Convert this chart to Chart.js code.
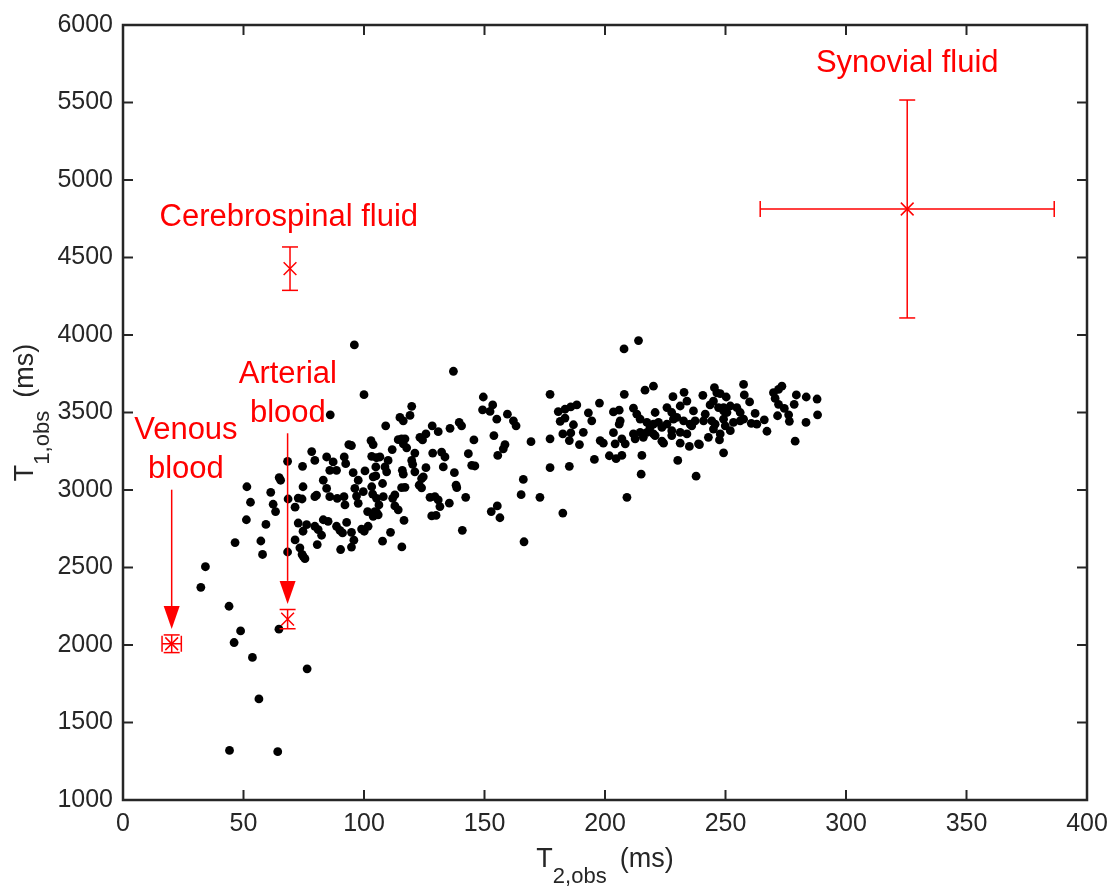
<!DOCTYPE html>
<html>
<head>
<meta charset="utf-8">
<script src="https://cdn.jsdelivr.net/npm/chart.js@4.4.0/dist/chart.umd.min.js"></script>
<style>
  body { margin: 0; background: #fff; }
  #wrap { width: 1117px; height: 886px; position: relative; }
</style>
</head>
<body>
<div id="wrap"><canvas id="relaxChart"></canvas></div>
<script>
// axis ticks
const xTicks = [0, 50, 100, 150, 200, 250, 300, 350, 400];
const yTicks = [1000, 1500, 2000, 2500, 3000, 3500, 4000, 4500, 5000, 5500, 6000];

// tissue measurements [T2,obs, T1,obs] in ms
const tissuePoints = [
  [96,3936],[100,3615],[86,3485],[68.3,3185],[78.3,3248],[79.6,3191],[84.5,3213],[87.2,3181],[88.6,3127],[85.8,3127],
  [91.8,3213],[92.4,3170],[93.7,3293],[94.8,3287],[102.9,3319],[103.8,3293],[103.2,3217],[100.4,3123],[95.5,3112],[97.6,3063],
  [103.8,3085],[105.2,3208],[104.9,3149],[74.5,3153],[64.8,3080],[65.4,3063],[51.4,3021],[52.9,2921],[61.3,2985],[62.3,2908],
  [63.3,2861],[68.5,2942],[72.7,2948],[74.3,2942],[74.7,3021],[71.4,2889],[51.2,2808],[59.3,2778],[46.5,2661],[57.2,2671],
  [57.9,2584],[68.3,2600],[71.4,2678],[73.4,2627],[74.3,2584],[75.5,2557],[34.2,2505],[72.7,2787],[76.2,2776],[74.7,2734],
  [79.6,2766],[81.0,2744],[82.4,2708],[80.6,2648],[83.1,2808],[85.1,2798],[88.6,2766],[90.0,2740],[91.1,2723],[94.8,2727],
  [92.8,2791],[95.8,2676],[94.8,2632],[90.3,2616],[99.0,2748],[100.1,2734],[101.7,2766],[103.8,2830],[105.2,2855],[101.5,2861],
  [97.6,2914],[96.9,2961],[99.7,2989],[103.2,3021],[105.2,2946],[96.2,3010],[91.7,2957],[92.1,2904],[88.9,2946],[85.8,2957],
  [84.5,3010],[83.1,3063],[80.3,2967],[79.6,2957],
  [137.1,3766],[149.5,3600],[149.2,3517],[152.3,3507],[153.4,3549],[155.1,3457],[159.5,3489],[162.0,3446],[163.1,3414],[177.2,3617],
  [153.9,3351],[145.6,3323],[158.5,3293],[157.8,3266],[155.5,3223],[169.3,3312],[177.2,3330],[143.3,3234],[144.7,3159],[146.0,3155],
  [177.2,3144],[166.1,3068],[165.2,2970],[173.0,2953],[155.3,2897],[152.8,2861],[156.4,2821],[140.8,2740],[166.4,2666],[142.2,2953],
  [138.2,3031],[138.5,3015],[137.5,3112],[135.4,2915],[132.9,3149],[133.6,3213],[132.2,3245],[128.5,3238],[135.7,3398],[139.5,3436],
  [140.5,3414],[130.8,3376],[128.3,3414],[125.7,3362],[123.2,3340],[124.3,3323],[119.8,3540],[119.1,3481],[114.9,3468],[116.3,3446],
  [109.0,3414],[114.2,3325],[115.6,3330],[117.0,3330],[116.3,3298],[117.7,3272],[111.7,3261],[106.6,3213],[110.0,3191],[108.7,3149],
  [109.4,3117],[104.9,3091],[115.9,3127],[116.3,3102],[121.1,3238],[119.8,3191],[120.2,3166],[121.1,3117],[125.7,3144],[124.6,3085],
  [123.9,3074],[107.7,3042],[122.9,3031],[123.9,3014],[115.6,3015],[117.0,3017],[112.8,2968],[111.9,2946],[108.0,2957],[103.6,2974],
  [106.2,2904],[104.5,2861],[105.9,2840],[112.8,2897],[114.2,2872],[116.6,2804],[127.4,2953],[129.4,2957],[130.8,2936],[131.5,2893],
  [128.1,2833],[129.9,2836],[111.0,2727],[107.7,2670],[115.7,2633],
  [213.9,3964],[207.9,3910],[197.7,3561],[208.0,3617],[216.6,3644],[220.1,3670],[228.2,3602],[232.8,3630],[234.0,3574],[231.2,3542],
  [225.7,3532],[227.7,3500],[180.6,3506],[183.4,3521],[185.8,3536],[188.3,3549],[181.4,3443],[183.4,3464],[186.9,3421],[193.1,3498],
  [194.5,3446],[203.5,3504],[205.9,3515],[206.3,3446],[205.9,3425],[211.8,3528],[213.2,3489],[214.6,3457],[217.4,3436],[218.7,3404],
  [220.8,3500],[222.2,3436],[223.6,3404],[225.7,3425],[229.8,3468],[232.6,3446],[235.3,3425],[236.7,3510],[234.0,3362],[231.2,3372],
  [227.7,3383],[220.1,3362],[215.9,3340],[211.8,3362],[212.5,3330],[207.0,3330],[208.4,3298],[203.5,3370],[204.2,3298],[198.0,3319],
  [199.3,3302],[191.0,3372],[185.8,3368],[182.5,3362],[185.2,3319],[189.4,3293],[223.6,3315],[224.3,3302],[231.2,3302],[235.0,3281],
  [238.8,3298],[195.6,3197],[201.8,3221],[204.6,3202],[207.0,3223],[215.3,3223],[230.2,3191],[185.2,3153],[215.0,3102],[237.8,3089],
  [209.1,2953],[182.5,2851],
  [257.5,3681],[245.4,3660],[240.6,3611],[247.8,3622],[250.3,3600],[257.8,3613],[260.0,3568],[273.4,3670],[272.0,3649],[269.9,3628],
  [270.6,3591],[272.0,3553],[279.4,3613],[283.5,3600],[288.0,3587],[278.5,3553],[274.4,3526],[271.6,3479],[276.2,3485],[276.5,3443],
  [283.4,3436],[288.2,3485],[278.9,3315],[262.3,3494],[266.1,3453],[267.2,3379],[263.0,3425],[260.7,3430],[257.5,3457],[256.1,3500],
  [254.7,3532],[252.0,3542],[249.2,3532],[245.0,3574],[243.6,3549],[241.6,3489],[237.4,3446],[236.0,3414],[240.9,3446],[244.3,3446],
  [245.0,3393],[249.2,3457],[249.9,3414],[252.0,3383],[253.3,3436],[256.1,3446],[247.8,3362],[247.5,3323],[242.9,3340],[239.2,3293],
  [249.2,3240],
  [246.4,3627],[247.1,3532],[249.2,3511],[228.4,3457],[220.1,3425],[217.4,3372],[220.8,3351],[214.6,3372],[227.7,3351],[250.6,3500],
  [245.7,3425],
  [32.3,2372],[44.0,2250],[48.8,2091],[46.1,2016],[64.7,2102],[53.7,1920],[76.4,1846],[56.4,1652],[44.2,1320],[64.2,1312],
  [74.7,2574]
];

// reference fluids (mean and spread)
const fluidNames = ['Venous blood', 'Arterial blood', 'Cerebrospinal fluid', 'Synovial fluid'];
const fluidT2 = [20.2, 68.3, 69.3, 325.4];
const fluidT1 = [2008, 2167, 4428, 4813];
const fluidT2Err = [4, 0, 0, 61];
const fluidT1Err = [57, 62, 140, 703];

// text annotations, anchored in data units
const labelLines = [['Synovial fluid'], ['Cerebrospinal fluid'], ['Arterial', 'blood'], ['Venous', 'blood']];
const labelAt = [[325.4, 5750], [68.8, 4760], [68.4, 3745], [26.1, 3385]];
const arrowFrom = [[20.2, 3002], [68.3, 3366]];
const arrowTo = [[20.2, 2103], [68.3, 2265]];

const RED = '#ff0000';
const INK = '#262626';
const FONT = '"Liberation Sans", Arial, sans-serif';

function line(ctx, x1, y1, x2, y2) {
  ctx.beginPath();
  ctx.moveTo(x1, y1);
  ctx.lineTo(x2, y2);
  ctx.stroke();
}

// draws "T" + subscript + " (ms)" centred on 0 along the baseline
function drawSubTitle(ctx, main, sub, rest) {
  ctx.font = '27px ' + FONT;
  const wMain = ctx.measureText(main).width;
  const wRest = ctx.measureText(rest).width;
  ctx.font = '22px ' + FONT;
  const wSub = ctx.measureText(sub).width;
  const gap = 13;
  let cx = -(wMain + wSub + gap + wRest) / 2;
  ctx.textAlign = 'left';
  ctx.textBaseline = 'alphabetic';
  ctx.font = '27px ' + FONT;
  ctx.fillText(main, cx, 0);
  cx += wMain;
  ctx.font = '22px ' + FONT;
  ctx.fillText(sub, cx, 16);
  cx += wSub + gap;
  ctx.font = '27px ' + FONT;
  ctx.fillText(rest, cx, 0);
}

const decorPlugin = {
  id: 'decor',
  afterDatasetsDraw(chart) {
    const { ctx, scales: { x, y } } = chart;
    ctx.save();
    ctx.strokeStyle = RED;
    ctx.fillStyle = RED;
    ctx.lineWidth = 1.5;
    const cap = 8;

    // error bars
    fluidT2.forEach((t2, i) => {
      const cx = x.getPixelForValue(t2);
      const cy = y.getPixelForValue(fluidT1[i]);
      if (fluidT1Err[i]) {
        const top = y.getPixelForValue(fluidT1[i] + fluidT1Err[i]);
        const bot = y.getPixelForValue(fluidT1[i] - fluidT1Err[i]);
        line(ctx, cx, top, cx, bot);
        line(ctx, cx - cap, top, cx + cap, top);
        line(ctx, cx - cap, bot, cx + cap, bot);
      }
      if (fluidT2Err[i]) {
        const lft = x.getPixelForValue(t2 - fluidT2Err[i]);
        const rgt = x.getPixelForValue(t2 + fluidT2Err[i]);
        line(ctx, lft, cy, rgt, cy);
        line(ctx, lft, cy - cap, lft, cy + cap);
        line(ctx, rgt, cy - cap, rgt, cy + cap);
      }
    });

    // arrows
    arrowFrom.forEach((from, i) => {
      const x1 = x.getPixelForValue(from[0]), y1 = y.getPixelForValue(from[1]);
      const x2 = x.getPixelForValue(arrowTo[i][0]), y2 = y.getPixelForValue(arrowTo[i][1]);
      const head = 23, half = 8;
      line(ctx, x1, y1, x2, y2 - head);
      ctx.beginPath();
      ctx.moveTo(x2, y2);
      ctx.lineTo(x2 - half, y2 - head);
      ctx.lineTo(x2 + half, y2 - head);
      ctx.closePath();
      ctx.fill();
    });

    // labels
    ctx.font = '31px ' + FONT;
    ctx.textAlign = 'center';
    ctx.textBaseline = 'middle';
    labelLines.forEach((lines, i) => {
      const lx = x.getPixelForValue(labelAt[i][0]);
      const ly = y.getPixelForValue(labelAt[i][1]);
      lines.forEach((txt, k) => ctx.fillText(txt, lx, ly + k * 39));
    });
    ctx.restore();
  },
  afterDraw(chart) {
    const { ctx, chartArea: a, scales: { x, y } } = chart;
    ctx.save();
    ctx.strokeStyle = INK;
    ctx.lineWidth = 2;
    const tl = 10;
    xTicks.forEach(v => {
      const px = x.getPixelForValue(v);
      line(ctx, px, a.bottom, px, a.bottom - tl);
      line(ctx, px, a.top, px, a.top + tl);
    });
    yTicks.forEach(v => {
      const py = y.getPixelForValue(v);
      line(ctx, a.left, py, a.left + tl, py);
      line(ctx, a.right, py, a.right - tl, py);
    });
    ctx.lineWidth = 2.5;
    ctx.strokeRect(a.left, a.top, a.right - a.left, a.bottom - a.top);

    // axis titles with subscripts
    ctx.fillStyle = INK;
    ctx.save();
    ctx.translate((a.left + a.right) / 2, 867);
    drawSubTitle(ctx, 'T', '2,obs', '(ms)');
    ctx.restore();
    ctx.save();
    ctx.translate(33, (a.top + a.bottom) / 2);
    ctx.rotate(-Math.PI / 2);
    drawSubTitle(ctx, 'T', '1,obs', '(ms)');
    ctx.restore();
    ctx.restore();
  }
};

new Chart(document.getElementById('relaxChart'), {
  type: 'scatter',
  data: {
    datasets: [
      {
        label: 'Tissues',
        data: tissuePoints.map(p => ({ x: p[0], y: p[1] })),
        backgroundColor: '#000',
        borderWidth: 0,
        pointRadius: 4.4,
        pointHoverRadius: 4.4
      },
      {
        label: 'Fluids',
        data: fluidT2.map((t2, i) => ({ x: t2, y: fluidT1[i], name: fluidNames[i] })),
        pointStyle: 'crossRot',
        borderColor: RED,
        borderWidth: 1.5,
        pointRadius: 9,
        pointHoverRadius: 9
      }
    ]
  },
  options: {
    responsive: true,
    maintainAspectRatio: false,
    animation: false,
    layout: { padding: { top: 17, right: 30, left: 0, bottom: 0 } },
    plugins: { legend: { display: false }, tooltip: { enabled: false } },
    scales: {
      x: {
        type: 'linear',
        min: 0,
        max: 400,
        afterBuildTicks: s => { s.ticks = xTicks.map(v => ({ value: v })); },
        afterFit: s => { s.height = 86; },
        grid: { display: false, drawTicks: false },
        border: { display: false },
        ticks: { font: { size: 25, family: FONT }, color: INK, padding: 9, maxRotation: 0, autoSkip: false,
                 callback: v => String(v) }
      },
      y: {
        type: 'linear',
        min: 1000,
        max: 6000,
        afterBuildTicks: s => { s.ticks = yTicks.map(v => ({ value: v })); },
        afterFit: s => { s.width = 123; },
        grid: { display: false, drawTicks: false },
        border: { display: false },
        ticks: { font: { size: 25, family: FONT }, color: INK, padding: 10, autoSkip: false,
                 callback: v => String(v) }
      }
    }
  },
  plugins: [decorPlugin]
});
</script>
</body>
</html>
